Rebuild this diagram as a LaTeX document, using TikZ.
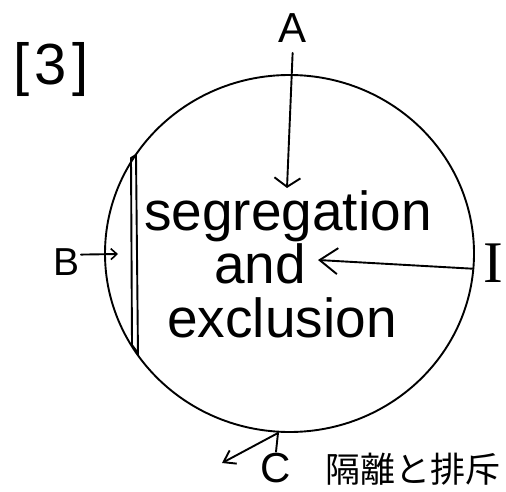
\documentclass[tikz,border=0pt]{standalone}
\usepackage{fontspec}
\setmainfont{Liberation Sans}
\newfontfamily\serifI{Liberation Serif}
\newfontfamily\jpfont{Noto Sans CJK JP}
\usetikzlibrary{arrows.meta}
\begin{document}
\begin{tikzpicture}[x=1pt,y=-1pt,line width=1.9pt,line cap=round,line join=round,
  lbl/.style={inner sep=0pt,anchor=base},
  arrA/.style={-{Straight Barb[length=9pt,width=26pt,line width=1.9pt]}},
  arrI/.style={-{Straight Barb[length=18pt,width=26pt,line width=1.9pt]}},
  arrB/.style={-{Straight Barb[length=6pt,width=11pt,line width=1.6pt]}},
  arrC/.style={-{Straight Barb[length=11pt,width=15pt,line width=1.9pt]}}]
\useasboundingbox (0,0) rectangle (506,492);
% circle
\coordinate (cen) at (289.5,253.5);
\draw (cen) ellipse [x radius=184.5, y radius=178.5];
% double line on the left
\draw (136,155) -- (131,158) -- (132,345) -- (138,353);
\draw (136,155) -- (138,355);
% texts
\node[lbl,font=\fontsize{58}{64}\selectfont] (num) at (51,85) {[\hspace{5pt}3\hspace{5pt}]};
\node[lbl,font=\fontsize{55}{60}\selectfont] (seg) at (288,230) {segregation};
\node[lbl,font=\fontsize{55}{60}\selectfont] (and) at (260,283) {and};
\node[lbl,font=\fontsize{55}{60}\selectfont] (excl) at (282,337) {exclusion};
\node[lbl,font=\fontsize{42}{48}\selectfont] (A) at (293,43) {A};
\node[lbl,font=\fontsize{39}{44}\selectfont] (B) at (67,275) {B};
\node[lbl,font=\serifI\fontsize{59}{64}\selectfont] (I) at (493,282) {I};
\node[lbl,font=\fontsize{42}{48}\selectfont] (C) at (276,482) {C};
\node[inner sep=0pt,font=\jpfont\fontsize{35}{40}\selectfont] (jp) at (413,469) {隔離と排斥};
% connectors
\coordinate (Atip) at (287,188);
\draw[arrA,shorten <=9pt] (A.south) -- (Atip);
\coordinate (Btip) at (118,254);
\draw[arrB] ([yshift=7pt]B.east) -- (Btip);
\coordinate (Itip) at (318,260);
\draw[arrI] ([xshift=-10pt,yshift=-6pt]I.west) -- (Itip);
\coordinate (Ctop) at (278,433);
\coordinate (Ctip) at (222,463);
\draw (C.north) -- (Ctop);
\draw[arrC] (Ctop) -- (Ctip);
\end{tikzpicture}
\end{document}
